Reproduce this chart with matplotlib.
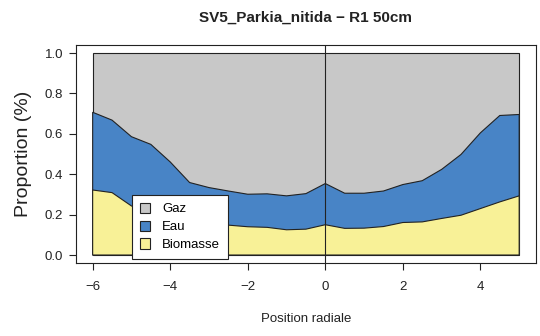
import numpy as np
import matplotlib
matplotlib.use("Agg")
import matplotlib.pyplot as plt
from matplotlib.patches import Patch

plt.rcParams["font.family"] = ["Liberation Sans", "DejaVu Sans"]

# radial positions and cumulative proportions (biomasse, biomasse + eau)
position = [-6, -5.5, -5, -4.5, -4, -3.5, -3, -2.5, -2, -1.5, -1, -0.5, 0,
            0.5, 1, 1.5, 2, 2.5, 3, 3.5, 4, 4.5, 5]
biomasse = [0.322, 0.309, 0.243, 0.21, 0.18, 0.165, 0.155, 0.148, 0.140, 0.137,
            0.125, 0.128, 0.150, 0.132, 0.133, 0.141, 0.161, 0.164, 0.181,
            0.197, 0.230, 0.263, 0.293]
eau_cum = [0.707, 0.668, 0.586, 0.548, 0.461, 0.359, 0.334, 0.317, 0.301, 0.303,
           0.293, 0.304, 0.354, 0.306, 0.306, 0.317, 0.349, 0.368, 0.424,
           0.498, 0.605, 0.691, 0.696]
labels = ["Gaz", "Eau", "Biomasse"]
colors = ["#C8C8C8", "#4884C6", "#F8F197"]
EDGE = "#222222"

x = np.array(position)
fig = plt.figure(figsize=(5.4, 3.36), dpi=100)
ax = fig.add_axes([0.140, 0.217, 0.853, 0.649])

# stacked polygons drawn from the back: gas fills to 1, then water, then biomass
xs = np.concatenate([x, [x[-1], x[0]]])
ax.fill(xs, np.concatenate([np.ones_like(x), [0, 0]]), facecolor=colors[0],
        edgecolor=EDGE, lw=0.8)
ax.fill(xs, np.concatenate([eau_cum, [0, 0]]), facecolor=colors[1],
        edgecolor=EDGE, lw=0.8)
ax.fill(xs, np.concatenate([biomasse, [0, 0]]), facecolor=colors[2],
        edgecolor=EDGE, lw=0.8)
ax.axvline(0, color=EDGE, lw=0.8)

ax.set_xlim(-6.44, 5.44)
ax.set_ylim(-0.04, 1.04)
ax.set_xticks([-6, -4, -2, 0, 2, 4])
ax.set_xticklabels(["\u22126", "\u22124", "\u22122", "0", "2", "4"])
ax.set_yticks(np.arange(0, 1.01, 0.2))
ax.set_yticklabels([f"{v:.1f}" for v in np.arange(0, 1.01, 0.2)])
ax.tick_params(length=5, width=0.8, color=EDGE, labelsize=9.5, labelcolor="#222222")
ax.tick_params(axis="x", pad=8)
ax.tick_params(axis="y", pad=4)
for s in ax.spines.values():
    s.set_linewidth(0.8)
    s.set_color(EDGE)

ax.set_title("SV5_Parkia_nitida \u2212 R1 50cm", fontsize=11, fontweight="bold",
             color="#222222", pad=17)
ax.set_xlabel("Position radiale", fontsize=9.5, labelpad=14, color="#222222")
ax.set_ylabel("Proportion (%)", fontsize=14, labelpad=9, color="#222222")

handles = [Patch(facecolor=c, edgecolor=EDGE, lw=0.8) for c in colors]
leg = ax.legend(handles, labels, loc="lower left",
                bbox_to_anchor=(131.7 / 540, 1 - 259 / 336),
                bbox_transform=fig.transFigure, fontsize=9.5, frameon=True,
                fancybox=False, framealpha=1, borderpad=0.6, handlelength=0.8,
                handleheight=0.8, handletextpad=0.9, labelspacing=0.4,
                borderaxespad=0)
leg.get_frame().set_edgecolor(EDGE)
leg.get_frame().set_linewidth(0.8)

fig.savefig("out.png", dpi=100)
